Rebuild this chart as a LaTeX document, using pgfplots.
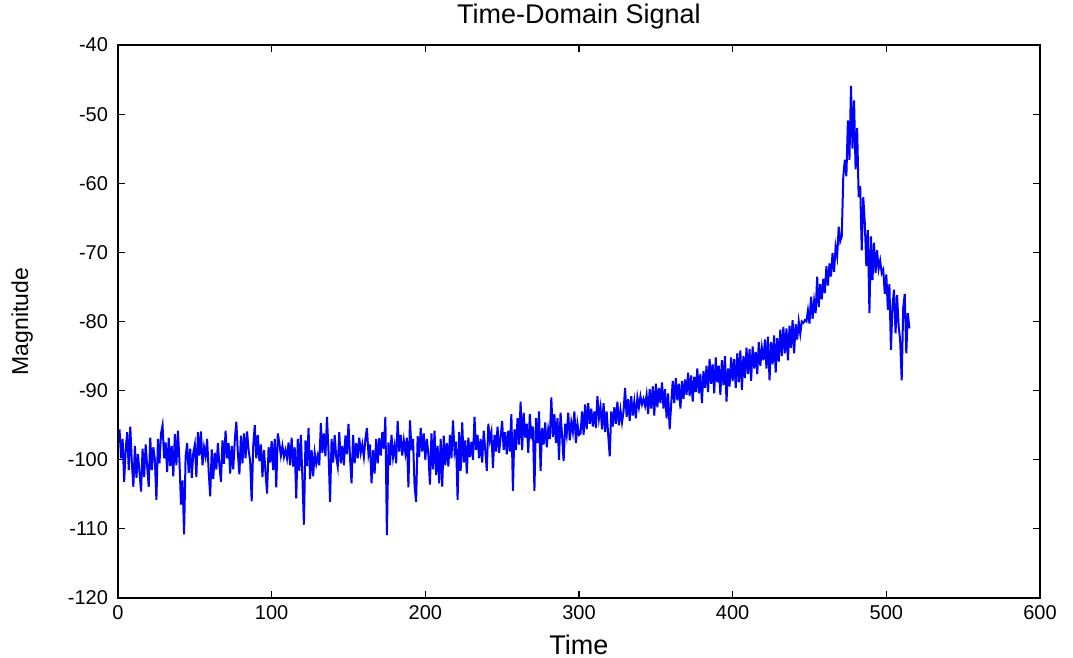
\documentclass[border=0pt]{standalone}
\usepackage{fontspec}
\setmainfont{Liberation Sans}
\usepackage{pgfplots}
\pgfplotsset{compat=1.18}
\begin{document}
\begin{tikzpicture}
\begin{axis}[
  at={(0,0)}, anchor=south west,
  scale only axis, width=461pt, height=276.5pt,
  xmin=0, xmax=600, ymin=-120, ymax=-40,
  xtick={0,100,...,600}, ytick={-120,-110,...,-40},
  tick align=inside, tick pos=both, major tick length=3.5pt,
  axis line style={black, line width=0.6pt},
  tick style={black, line width=0.6pt},
  /pgf/number format/assume math mode=true,
  tick label style={font=\fontsize{10}{12}\selectfont},
  yticklabel style={xshift=-1.5pt},
  xlabel={Time},
  xlabel style={font=\fontsize{13.5}{15}\selectfont, at={(axis description cs:0.5,-0.085)}, anchor=center},
  ylabel={Magnitude},
  ylabel style={font=\fontsize{11.5}{13}\selectfont, at={(axis description cs:-0.104,0.5)}, anchor=center},
]
\addplot[color={rgb,255:red,0;green,0;blue,255}, line width=1pt] coordinates {
(1,-95.6)(2,-99.8)(3,-97.0)(4,-103.2)(5,-98.5)(6,-96.0)(7,-101.5)(8,-95.2)(9,-100.4)(10,-103.9)
(11,-98.0)(12,-102.6)(13,-99.2)(14,-101.8)(15,-104.6)(16,-98.4)(17,-102.5)(18,-97.8)(19,-101.0)(20,-103.9)
(21,-96.8)(22,-101.5)(23,-98.2)(24,-100.0)(25,-105.8)(26,-97.0)(27,-100.5)(28,-96.2)(29,-95.0)(30,-99.8)
(31,-97.5)(32,-101.8)(33,-96.8)(34,-100.9)(35,-98.0)(36,-102.4)(37,-96.3)(38,-100.8)(39,-95.8)(40,-100.2)
(41,-106.5)(42,-103.0)(43,-110.8)(44,-99.5)(45,-97.6)(46,-101.9)(47,-98.4)(48,-102.6)(49,-99.0)(50,-97.8)
(51,-102.5)(52,-96.0)(53,-99.4)(54,-95.9)(55,-100.8)(56,-98.2)(57,-99.5)(58,-97.0)(59,-101.6)(60,-105.3)
(61,-98.5)(62,-102.8)(63,-99.0)(64,-101.4)(65,-97.6)(66,-100.8)(67,-103.2)(68,-97.2)(69,-100.6)(70,-95.8)
(71,-99.8)(72,-97.6)(73,-102.0)(74,-98.0)(75,-101.4)(76,-97.2)(77,-94.5)(78,-99.0)(79,-102.1)(80,-96.5)
(81,-100.5)(82,-96.2)(83,-99.8)(84,-95.9)(85,-98.6)(86,-100.2)(87,-106.0)(88,-98.0)(89,-95.0)(90,-99.8)
(91,-96.4)(92,-100.2)(93,-97.8)(94,-102.5)(95,-98.6)(96,-101.8)(97,-104.9)(98,-98.2)(99,-100.4)(100,-97.3)
(101,-101.5)(102,-97.0)(103,-104.0)(104,-96.2)(105,-97.6)(106,-99.4)(107,-98.0)(108,-99.6)(109,-98.6)(110,-99.8)
(111,-97.5)(112,-100.8)(113,-96.8)(114,-101.0)(115,-98.2)(116,-105.6)(117,-97.0)(118,-101.6)(119,-96.4)(120,-102.5)
(121,-109.4)(122,-97.2)(123,-100.9)(124,-95.4)(125,-102.8)(126,-98.6)(127,-102.4)(128,-99.0)(129,-100.6)(130,-99.4)
(131,-100.8)(132,-94.7)(133,-99.0)(134,-96.2)(135,-99.5)(136,-93.8)(137,-98.8)(138,-106.1)(139,-97.0)(140,-100.4)
(141,-96.4)(142,-99.6)(143,-101.0)(144,-96.0)(145,-100.5)(146,-98.0)(147,-100.8)(148,-96.5)(149,-99.2)(150,-94.8)
(151,-99.8)(152,-103.4)(153,-96.4)(154,-100.5)(155,-97.6)(156,-99.8)(157,-96.8)(158,-99.0)(159,-97.8)(160,-99.6)
(161,-97.0)(162,-95.4)(163,-99.2)(164,-97.8)(165,-103.4)(166,-98.6)(167,-102.0)(168,-97.0)(169,-100.5)(170,-96.9)
(171,-99.4)(172,-96.0)(173,-98.4)(174,-93.8)(175,-110.9)(176,-97.5)(177,-100.8)(178,-96.4)(179,-99.6)(180,-98.0)
(181,-100.5)(182,-94.4)(183,-98.8)(184,-96.4)(185,-99.4)(186,-97.2)(187,-99.0)(188,-96.8)(189,-104.0)(190,-94.3)
(191,-98.6)(192,-97.0)(193,-103.8)(194,-106.1)(195,-96.6)(196,-99.6)(197,-95.4)(198,-98.8)(199,-96.2)(200,-100.0)
(201,-97.0)(202,-99.2)(203,-103.6)(204,-96.2)(205,-101.4)(206,-95.8)(207,-102.2)(208,-98.0)(209,-103.4)(210,-97.0)
(211,-103.9)(212,-96.5)(213,-100.8)(214,-97.6)(215,-101.0)(216,-96.4)(217,-99.8)(218,-94.3)(219,-98.8)(220,-97.4)
(221,-105.8)(222,-96.0)(223,-101.6)(224,-94.6)(225,-100.4)(226,-97.2)(227,-102.0)(228,-96.8)(229,-99.6)(230,-97.4)
(231,-100.0)(232,-93.8)(233,-98.6)(234,-96.4)(235,-99.8)(236,-97.0)(237,-100.4)(238,-95.8)(239,-98.6)(240,-101.6)
(241,-94.8)(242,-97.2)(243,-96.0)(244,-101.2)(245,-96.4)(246,-98.8)(247,-95.2)(248,-99.0)(249,-96.8)(250,-94.4)
(251,-98.6)(252,-96.0)(253,-99.2)(254,-95.8)(255,-98.8)(256,-93.4)(257,-104.5)(258,-95.6)(259,-98.6)(260,-94.0)
(261,-97.8)(262,-91.6)(263,-98.6)(264,-93.2)(265,-96.8)(266,-94.8)(267,-99.0)(268,-93.4)(269,-97.0)(270,-95.2)
(271,-104.5)(272,-94.0)(273,-97.6)(274,-93.0)(275,-101.6)(276,-95.4)(277,-97.8)(278,-94.6)(279,-98.2)(280,-95.6)
(281,-97.0)(282,-91.0)(283,-96.7)(284,-93.4)(285,-97.6)(286,-94.0)(287,-100.0)(288,-93.2)(289,-96.6)(290,-100.2)
(291,-94.8)(292,-96.4)(293,-93.2)(294,-97.2)(295,-94.6)(296,-96.0)(297,-93.0)(298,-97.6)(299,-94.8)(300,-96.4)
(301,-96.2)(302,-93.0)(303,-96.4)(304,-92.0)(305,-95.6)(306,-91.8)(307,-94.8)(308,-92.6)(309,-95.2)(310,-93.0)
(311,-95.4)(312,-90.8)(313,-94.0)(314,-92.4)(315,-95.6)(316,-91.8)(317,-96.0)(318,-93.0)(319,-96.4)(320,-99.5)
(321,-93.0)(322,-95.2)(323,-92.4)(324,-94.8)(325,-91.6)(326,-95.0)(327,-92.8)(328,-94.6)(329,-93.0)(330,-89.6)
(331,-93.8)(332,-91.2)(333,-94.4)(334,-90.8)(335,-93.6)(336,-91.6)(337,-94.0)(338,-91.0)(339,-92.4)(340,-90.8)
(341,-92.0)(342,-91.2)(343,-92.2)(344,-90.6)(345,-93.4)(346,-89.8)(347,-92.6)(348,-89.4)(349,-93.6)(350,-89.0)
(351,-92.4)(352,-89.6)(353,-91.8)(354,-88.8)(355,-92.6)(356,-89.8)(357,-94.0)(358,-90.4)(359,-95.6)(360,-92.0)
(361,-88.6)(362,-91.8)(363,-88.2)(364,-91.4)(365,-89.0)(366,-92.6)(367,-88.6)(368,-91.2)(369,-88.4)(370,-90.6)
(371,-87.4)(372,-90.8)(373,-87.8)(374,-91.6)(375,-88.0)(376,-90.2)(377,-86.8)(378,-90.4)(379,-87.6)(380,-91.8)
(381,-87.2)(382,-89.6)(383,-86.4)(384,-90.2)(385,-85.4)(386,-89.0)(387,-86.2)(388,-90.4)(389,-85.2)(390,-88.8)
(391,-86.4)(392,-90.6)(393,-85.6)(394,-89.2)(395,-85.0)(396,-91.6)(397,-86.8)(398,-89.4)(399,-85.2)(400,-88.6)
(401,-85.4)(402,-89.6)(403,-84.6)(404,-88.8)(405,-84.2)(406,-89.9)(407,-85.0)(408,-88.2)(409,-83.8)(410,-87.6)
(411,-84.0)(412,-88.6)(413,-83.6)(414,-86.8)(415,-84.4)(416,-87.6)(417,-83.0)(418,-86.4)(419,-83.8)(420,-85.6)
(421,-82.6)(422,-86.8)(423,-82.2)(424,-88.5)(425,-83.0)(426,-86.2)(427,-82.0)(428,-87.4)(429,-82.4)(430,-85.8)
(431,-81.2)(432,-85.0)(433,-80.8)(434,-84.6)(435,-81.0)(436,-85.6)(437,-80.6)(438,-83.8)(439,-79.8)(440,-84.6)
(441,-80.4)(442,-82.6)(443,-80.0)(444,-81.8)(445,-80.0)(446,-80.2)(447,-79.8)(448,-80.0)(449,-78.4)(450,-80.3)
(451,-76.4)(452,-79.6)(453,-77.0)(454,-78.8)(455,-73.5)(456,-77.9)(457,-74.6)(458,-76.8)(459,-73.8)(460,-75.9)
(461,-72.0)(462,-74.8)(463,-71.6)(464,-73.5)(465,-70.1)(466,-72.8)(467,-69.2)(468,-70.6)(469,-66.3)(470,-68.4)
(471,-67.7)(472,-59.0)(473,-56.6)(474,-59.0)(475,-50.9)(476,-56.6)(477,-45.9)(478,-55.0)(479,-48.0)(480,-58.0)
(481,-52.0)(482,-62.0)(483,-60.4)(484,-69.7)(485,-62.0)(486,-65.8)(487,-72.0)(488,-66.8)(489,-78.8)(490,-67.7)
(491,-74.0)(492,-68.6)(493,-73.0)(494,-69.7)(495,-72.4)(496,-71.2)(497,-73.0)(498,-72.5)(499,-76.0)(500,-73.2)
(501,-78.3)(502,-74.6)(503,-84.1)(504,-77.8)(505,-75.4)(506,-81.7)(507,-76.2)(508,-80.6)(509,-82.7)(510,-88.5)
(511,-78.0)(512,-76.0)(513,-84.6)(514,-78.8)(515,-81.0)
};
\end{axis}
% title set as a plain node above the axis box
\node[font=\fontsize{13.5}{15}\selectfont, anchor=center] at (230.5pt,290.5pt) {Time-Domain Signal};
\pgfresetboundingbox
\path (-59pt,-30pt) rectangle (477.5pt,299pt);
\end{tikzpicture}
\end{document}
